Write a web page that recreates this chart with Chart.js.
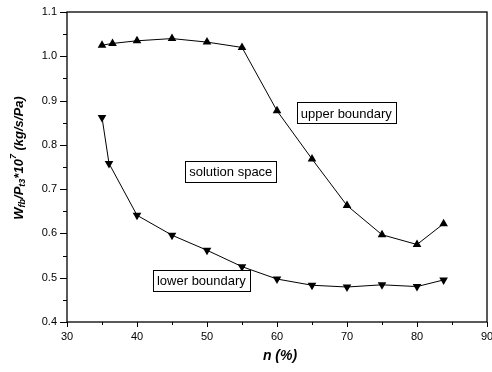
<!DOCTYPE html>
<html>
<head>
<meta charset="utf-8">
<script src="https://cdn.jsdelivr.net/npm/chart.js@4/dist/chart.umd.min.js"></script>
<style>
  html, body { margin: 0; padding: 0; background: #fff; }
  #wrap { width: 492px; height: 372px; }
</style>
</head>
<body>
<div id="wrap"><canvas id="chart" width="492" height="372"></canvas></div>
<script>
// values
const upperX = [35, 36.5, 40, 45, 50, 55, 60, 65, 70, 75, 80, 83.8];
const upperY = [1.025, 1.029, 1.035, 1.040, 1.032, 1.020, 0.877, 0.768, 0.663, 0.597, 0.575, 0.622];
const lowerX = [35, 36, 40, 45, 50, 55, 60, 65, 70, 75, 80, 83.8];
const lowerY = [0.862, 0.758, 0.641, 0.596, 0.562, 0.525, 0.497, 0.483, 0.479, 0.484, 0.480, 0.495];
const xTicks = [30, 40, 50, 60, 70, 80, 90];
const yTicks = [0.4, 0.5, 0.6, 0.7, 0.8, 0.9, 1.0, 1.1];

const FONT = 'Arial, "Liberation Sans", sans-serif';

function toPoints(xs, ys) {
    return xs.map((x, i) => ({ x: x, y: ys[i] }));
}

// boxed text labels inside the plot (x, y = box centre in data units)
const notes = [
    { text: 'upper boundary', x: 69.9, y: 0.872 },
    { text: 'solution space', x: 53.4, y: 0.739 },
    { text: 'lower boundary', x: 49.2, y: 0.494 }
];

const framePlugin = {
    id: 'frame',
    afterDraw(chart) {
        const ctx = chart.ctx;
        const a = chart.chartArea;
        const xs = chart.scales.x, ys = chart.scales.y;
        ctx.save();
        ctx.strokeStyle = '#000';
        ctx.lineWidth = 1.3;
        ctx.strokeRect(a.left, a.top, a.right - a.left, a.bottom - a.top);

        // major and minor ticks, outward
        ctx.lineWidth = 1;
        ctx.beginPath();
        for (let v = 30; v <= 90; v += 5) {
            const px = Math.round(xs.getPixelForValue(v)) + 0.5;
            const len = v % 10 === 0 ? 5 : 3;
            ctx.moveTo(px, a.bottom);
            ctx.lineTo(px, a.bottom + len);
        }
        for (let i = 0; i <= 14; i++) {
            const v = 0.4 + i * 0.05;
            const py = Math.round(ys.getPixelForValue(v)) + 0.5;
            const len = i % 2 === 0 ? 7 : 4;
            ctx.moveTo(a.left, py);
            ctx.lineTo(a.left - len, py);
        }
        ctx.stroke();

        // tick labels
        ctx.fillStyle = '#000';
        ctx.font = '11px ' + FONT;
        ctx.textAlign = 'center';
        ctx.textBaseline = 'top';
        xTicks.forEach(v => ctx.fillText(String(v), xs.getPixelForValue(v), a.bottom + 9));
        ctx.textAlign = 'right';
        ctx.textBaseline = 'middle';
        yTicks.forEach(v => ctx.fillText(v.toFixed(1), a.left - 10, ys.getPixelForValue(v)));

        // x title
        ctx.font = 'italic bold 14px ' + FONT;
        ctx.textAlign = 'center';
        ctx.textBaseline = 'middle';
        ctx.fillText('n (%)', (a.left + a.right) / 2 + 3, 356);

        // y title with sub/superscripts
        const parts = [
            { t: 'W', f: 'italic bold 13px', dy: 0 },
            { t: 'fb', f: 'italic bold 9px', dy: 4 },
            { t: '/P', f: 'italic bold 13px', dy: 0 },
            { t: 't3', f: 'italic bold 9px', dy: 4 },
            { t: '*10', f: 'italic bold 13px', dy: 0 },
            { t: '7', f: 'italic bold 9px', dy: -5 },
            { t: ' (kg/s/Pa)', f: 'italic bold 13px', dy: 0 }
        ];
        let total = 0;
        parts.forEach(p => { ctx.font = p.f + ' ' + FONT; p.w = ctx.measureText(p.t).width; total += p.w; });
        ctx.translate(19, 158);
        ctx.rotate(-Math.PI / 2);
        ctx.textAlign = 'left';
        let cx = -total / 2;
        parts.forEach(p => {
            ctx.font = p.f + ' ' + FONT;
            ctx.fillText(p.t, cx, p.dy);
            cx += p.w;
        });
        ctx.setTransform(1, 0, 0, 1, 0, 0);

        // boxed notes
        ctx.font = '13px ' + FONT;
        ctx.textAlign = 'center';
        ctx.textBaseline = 'middle';
        notes.forEach(n => {
            const px = xs.getPixelForValue(n.x), py = ys.getPixelForValue(n.y);
            const w = Math.round(ctx.measureText(n.text).width + 8), h = 21;
            const bx = Math.round(px - w / 2) + 0.5, by = Math.round(py - h / 2) + 0.5;
            ctx.fillStyle = '#fff';
            ctx.fillRect(bx, by, w, h);
            ctx.strokeStyle = '#000';
            ctx.lineWidth = 1;
            ctx.strokeRect(bx, by, w, h);
            ctx.fillStyle = '#000';
            ctx.fillText(n.text, px, py + 1);
        });
        ctx.restore();
    }
};

const ctx = document.getElementById('chart').getContext('2d');
new Chart(ctx, {
    type: 'scatter',
    data: {
        datasets: [
            {
                label: 'upper boundary',
                data: toPoints(upperX, upperY),
                showLine: true,
                borderColor: '#000',
                borderWidth: 1,
                backgroundColor: '#000',
                pointStyle: 'triangle',
                pointRadius: 5,
                pointBorderWidth: 0
            },
            {
                label: 'lower boundary',
                data: toPoints(lowerX, lowerY),
                showLine: true,
                borderColor: '#000',
                borderWidth: 1,
                backgroundColor: '#000',
                pointStyle: 'triangle',
                pointRotation: 180,
                pointRadius: 5,
                pointBorderWidth: 0
            }
        ]
    },
    options: {
        responsive: false,
        animation: false,
        layout: { padding: { top: 12, right: 5, left: 0, bottom: 0 } },
        plugins: { legend: { display: false }, tooltip: { enabled: false } },
        scales: {
            x: {
                type: 'linear',
                min: 30, max: 90,
                grid: { display: false, drawTicks: false },
                border: { display: false },
                ticks: { display: false },
                afterFit(scale) { scale.height = 50; }
            },
            y: {
                type: 'linear',
                min: 0.4, max: 1.1,
                grid: { display: false, drawTicks: false },
                border: { display: false },
                ticks: { display: false },
                afterFit(scale) { scale.width = 67; }
            }
        }
    },
    plugins: [framePlugin]
});
</script>
</body>
</html>
